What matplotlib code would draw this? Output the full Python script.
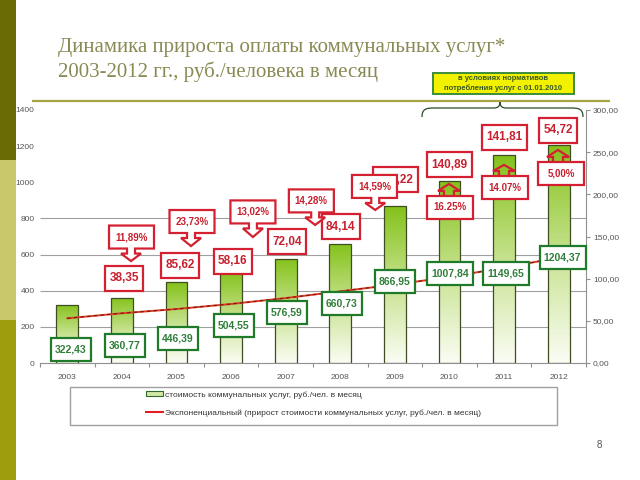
import numpy as np
import matplotlib
matplotlib.use('Agg')
import matplotlib.pyplot as plt
from matplotlib.patches import Rectangle, Polygon, PathPatch, Patch
from matplotlib.path import Path
from matplotlib.colors import LinearSegmentedColormap
from matplotlib.lines import Line2D
from matplotlib.transforms import IdentityTransform

# ---------------- data ----------------
years = ['2003', '2004', '2005', '2006', '2007', '2008', '2009', '2010', '2011', '2012']
cost = [322.43, 360.77, 446.39, 504.55, 576.59, 660.73, 866.95, 1007.84, 1149.65, 1204.37]
increase = [None, 38.35, 85.62, 58.16, 72.04, 84.14, 206.22, 140.89, 141.81, 54.72]
pct_labels = [None, '11,89%', '23,73%', '13,02%', '14,28%', '14,59%', None, '16.25%', '14.07%', '5,00%']
trend = [53, 59, 64, 70, 77, 85, 93, 102, 113, 125]   # exponential trend of increase (right axis)
left_ticks = [0, 200, 400, 600, 800, 1000, 1200, 1400]
right_ticks = [0, 50, 100, 150, 200, 250, 300]
grid_vals = [200, 400, 600, 800]

title1 = 'Динамика прироста оплаты коммунальных услуг*'
title2 = '2003-2012 гг., руб./человека в месяц'
note1 = 'в условиях нормативов'
note2 = 'потребления услуг с 01.01.2010'
legend_labels = ['стоимость коммунальных услуг, руб./чел. в месяц',
                 'Экспоненциальный (прирост стоимости коммунальных услуг, руб./чел. в месяц)']

# ---------------- layout (label anchors in data coords) ----------------
green_pos = [(0.06, 75), (1.06, 97), (2.03, 138), (3.05, 210), (4.02, 277),
             (5.03, 327), (6.0, 451), (7.01, 493), (8.03, 493), (9.07, 584)]
red_pos = [None, (1.04, 470), (2.07, 540), (3.03, 562), (4.02, 672), (5.01, 755),
           (6.01, 1013), (7.0, 1096), (8.01, 1248), (8.99, 1287)]
pct_pos = [None, (1.176, 697), (2.284, 783), (3.40, 836), (4.47, 897), (5.626, 977),
           None, (7.0, 861), (8.017, 971), (9.04, 1049)]
pct_tip = [None, (1.167, 564), (2.266, 647), (3.40, 697), (4.54, 764), (5.64, 847),
           None, (6.99, 991), (7.998, 1096), (8.987, 1179)]

W, H = 640, 480
fig = plt.figure(figsize=(6.4, 4.8), dpi=100)
fig.patch.set_facecolor('white')

# overlay in pixel coords for slide decorations
ov = fig.add_axes([0, 0, 1, 1])
ov.set_xlim(0, W); ov.set_ylim(H, 0); ov.axis('off')
ov.add_patch(Rectangle((0, 0), 16, 160, fc='#6b6b05', ec='none'))
ov.add_patch(Rectangle((0, 160), 16, 160, fc='#c9c96c', ec='none'))
ov.add_patch(Rectangle((0, 320), 16, 160, fc='#9d9d0e', ec='none'))
ov.plot([32, 610], [101, 101], color='#a5a542', lw=1.6, solid_capstyle='butt')
ov.text(58, 52, title1, family='Liberation Serif', fontsize=15, color='#8a8a55', va='baseline')
ov.text(58, 77, title2, family='Liberation Serif', fontsize=15, color='#8a8a55', va='baseline')

# yellow note box
ov.add_patch(Rectangle((433, 73), 141, 21, fc='#f2f200', ec='#3c8c3c', lw=1.4, zorder=3))
ov.text(503.5, 79, note1, fontsize=5.5, family='Liberation Sans', fontweight='bold',
        color='#3a5a22', ha='center', va='center', zorder=4)
ov.text(503.5, 88.5, note2, fontsize=5.5, family='Liberation Sans', fontweight='bold',
        color='#3a5a22', ha='center', va='center', zorder=4)
# brace
bv = [(422, 117), (422, 109), (426, 108), (434, 108), (494, 108),
      (498, 108), (500, 106), (500, 102),
      (500, 106), (502, 108), (506, 108), (571, 108),
      (579, 108), (583, 109), (583, 117)]
bc = [Path.MOVETO, Path.CURVE4, Path.CURVE4, Path.CURVE4, Path.LINETO,
      Path.CURVE4, Path.CURVE4, Path.CURVE4,
      Path.CURVE4, Path.CURVE4, Path.CURVE4, Path.LINETO,
      Path.CURVE4, Path.CURVE4, Path.CURVE4]
ov.add_patch(PathPatch(Path(bv, bc), fc='none', ec='#2a4a2a', lw=0.9))

# legend frame and page number
ov.add_patch(Rectangle((70, 387), 487, 38, fc='white', ec='#a0a0a0', lw=1.0))
ov.text(599, 445, '8', fontsize=7, color='#555555', ha='center', va='center',
        family='Liberation Sans')

# ---------------- chart ----------------
ax = fig.add_axes([40 / W, 1 - 363 / H, 546 / W, 253 / H])
ax.set_facecolor('none')
x = np.arange(len(years))
ax.set_xlim(-0.5, 9.5)
ax.set_ylim(0, 1400)

cmap = LinearSegmentedColormap.from_list('g', [(0, '#fbfdf5'), (0.45, '#cde59a'), (1, '#84c21a')])
grad = np.linspace(0, 1, 256).reshape(-1, 1)
bars = ax.bar(x, cost, width=0.4, facecolor='none', edgecolor='#3e4e22', lw=0.9, zorder=3)
for b in bars:
    im = ax.imshow(grad, extent=(b.get_x(), b.get_x() + b.get_width(), 0, b.get_height()),
                   origin='lower', aspect='auto', cmap=cmap, zorder=2)
    im.set_clip_path(b)
ax.set_xlim(-0.5, 9.5)
ax.set_ylim(0, 1400)
ax.hlines(grid_vals, -0.5, 9.5, color='#a0a0a0', lw=0.8, zorder=1)

for s in ['left', 'top', 'right']:
    ax.spines[s].set_visible(False)
ax.spines['bottom'].set_color('#909090')
ax.spines['bottom'].set_linewidth(0.8)
ax.set_yticks(left_ticks)
ax.set_yticklabels([str(v) for v in left_ticks])
ax.tick_params(axis='y', length=0, pad=4, labelsize=6, labelcolor='#555555')
ax.set_xticks(x)
ax.set_xticklabels(years)
ax.tick_params(axis='x', which='major', length=0, pad=8, labelsize=6, labelcolor='#555555')
ax.set_xticks(np.arange(-0.5, 10, 1), minor=True)
ax.tick_params(axis='x', which='minor', length=3, color='#909090', width=0.8)
for lab in ax.get_xticklabels() + ax.get_yticklabels():
    lab.set_family('Liberation Sans')

ax2 = ax.twinx()
ax2.set_ylim(0, 300)
ax2.set_yticks(right_ticks)
ax2.set_yticklabels([f'{v:.2f}'.replace('.', ',') for v in right_ticks])
for s in ['left', 'top', 'bottom']:
    ax2.spines[s].set_visible(False)
ax2.spines['right'].set_color('#909090')
ax2.spines['right'].set_linewidth(0.8)
ax2.tick_params(axis='y', length=3, color='#909090', width=0.8, pad=2,
                labelsize=6, labelcolor='#555555')
for lab in ax2.get_yticklabels():
    lab.set_family('Liberation Sans')

ax2.plot(x, trend, color='#e23a22', lw=1.4, zorder=3)
ax2.plot(x, trend, color='#6a1a10', lw=0.8, dashes=(3, 3), zorder=3)

# ---------------- labels ----------------
def to_disp(px, py):
    return ax.transData.transform((px, py))

RED_EC, RED_TX = '#d42030', '#c8202e'
GRN_EC, GRN_TX = '#1f7a2a', '#2f7f3a'

def box(cx, cy, w, h, ec, z):
    X, Y = to_disp(cx, cy)
    ax2.add_patch(Rectangle((X - w / 2, Y - h / 2), w, h, transform=IdentityTransform(),
                            fc='white', ec=ec, lw=1.6, zorder=z, clip_on=False))

def down_callout(cx, cy, w, h, tip, z):
    X, Y = to_disp(cx, cy)
    TX, TY = to_disp(*tip)
    l, r, b, t = X - w / 2, X + w / 2, Y - h / 2, Y + h / 2
    sw, hw, sl = 4, 10, 5
    v = [(l, t), (r, t), (r, b), (TX + sw, b), (TX + sw, b - sl), (TX + hw, b - sl), (TX, TY),
         (TX - hw, b - sl), (TX - sw, b - sl), (TX - sw, b), (l, b)]
    ax2.add_patch(Polygon(v, closed=True, transform=IdentityTransform(), fc='white', ec=RED_EC,
                          lw=1.6, zorder=z, clip_on=False, joinstyle='miter'))

def up_callout(cx, cy, w, h, tip, z):
    X, Y = to_disp(cx, cy)
    TX, TY = to_disp(*tip)
    l, r, b, t = X - w / 2, X + w / 2, Y - h / 2, Y + h / 2
    sw, hw, sl = 5, 11, 5
    v = [(TX - sw, t), (TX - sw, t + sl), (TX - hw, t + sl), (TX, TY),
         (TX + hw, t + sl), (TX + sw, t + sl), (TX + sw, t)]
    ax2.add_patch(Polygon(v, closed=False, transform=IdentityTransform(), fc='none', ec=RED_EC,
                          lw=1.6, zorder=z, clip_on=False, joinstyle='miter'))
    box(cx, cy, w, h, RED_EC, z)

# increment boxes (below the percent callouts)
for i in range(len(years)):
    if increase[i] is not None:
        s = f'{increase[i]:.2f}'.replace('.', ',')
        cx, cy = red_pos[i]
        w = 38 if len(s) <= 5 else 45
        box(cx, cy, w, 25, RED_EC, 5)
        ax2.text(cx, cy, s, transform=ax.transData, ha='center', va='center', fontsize=8.5,
                 fontweight='bold', color=RED_TX, family='Liberation Sans', zorder=5.5)

# percent callouts
for i in range(len(years)):
    if pct_labels[i] is not None:
        cx, cy = pct_pos[i]
        if i <= 5:
            down_callout(cx, cy, 45, 23, pct_tip[i], 7)
        else:
            up_callout(cx, cy, 46, 23, pct_tip[i], 7)
        ax2.text(cx, cy, pct_labels[i], transform=ax.transData, ha='center', va='center',
                 fontsize=7, fontweight='bold', color=RED_TX, family='Liberation Sans',
                 zorder=7.5)

# cost labels
for i in range(len(years)):
    s = f'{cost[i]:.2f}'.replace('.', ',')
    cx, cy = green_pos[i]
    w = 40 if len(s) <= 6 else 46
    box(cx, cy, w, 23, GRN_EC, 4)
    ax2.text(cx, cy, s, transform=ax.transData, ha='center', va='center', fontsize=7.5,
             fontweight='bold', color=GRN_TX, family='Liberation Sans', zorder=4.5)

# legend entries (frame drawn separately)
handles = [Patch(fc='#d5e8a5', ec='#2d6a2d', lw=0.8),
           Line2D([], [], color='#e02020', lw=1.5)]
leg = ax2.legend(handles, legend_labels, loc='upper left',
                 bbox_to_anchor=(146 / W, 1 - 391 / H), bbox_transform=fig.transFigure,
                 frameon=False, prop={'family': 'Liberation Sans', 'size': 6},
                 handlelength=2.0, handleheight=0.6, handletextpad=0.25,
                 labelspacing=1.3, borderpad=0, borderaxespad=0)
for t in leg.get_texts():
    t.set_color('#333333')

fig.savefig('out.png', dpi=100)
